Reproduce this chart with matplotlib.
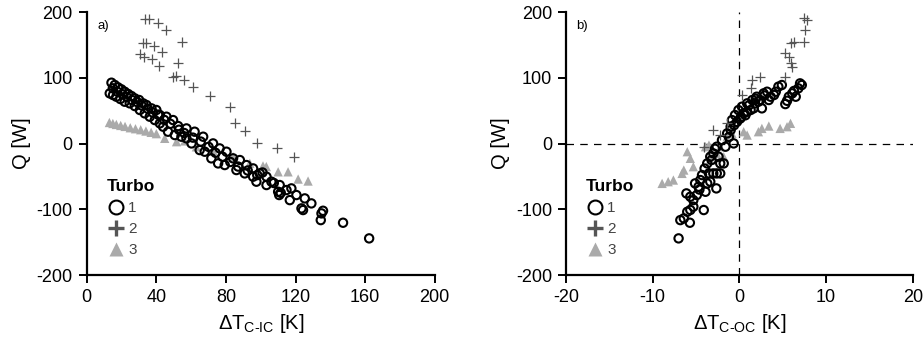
import numpy as np
import matplotlib.pyplot as plt
from matplotlib.lines import Line2D

plt.rcParams['font.family'] = ['Liberation Sans', 'DejaVu Sans']
plt.rcParams['axes.unicode_minus'] = False

# ---- panel a: dT C-IC ----
a1_x = [14.2, 16.1, 18.0, 19.9, 21.8, 23.8, 25.7, 27.6, 30.1, 32.4, 34.3, 37.2, 40.0, 42.0,
        45.8, 49.6, 52.5, 57.3, 62.0, 66.9, 72.6, 76.4, 80.3, 84.1, 88.0, 91.8, 95.6, 99.4,
        103.3, 106.1, 110.9, 114.8, 117.6, 120.5, 125.3, 129.1, 123.4, 134.9, 135.8, 134.5,
        147.3, 162.3,
        13.2, 15.1, 17.0, 19.3, 21.8, 24.7, 27.6, 30.5, 33.3, 36.2, 39.1, 42.0, 43.9, 46.7,
        50.6, 54.4, 57.3, 60.2, 64.9, 67.8, 71.6, 75.5, 79.3, 86.0, 90.8, 95.6, 97.5, 103.3,
        110.0, 110.6, 116.7, 124.3,
        15.0, 17.5, 20.5, 23.0, 26.0, 29.0, 31.5, 35.0, 38.0, 41.0, 44.5, 48.0, 53.0, 56.0,
        61.0, 65.5, 70.0, 74.0, 78.0, 82.5, 87.0, 92.5, 98.0, 101.0, 107.5, 111.5]
a1_y = [92.5, 89.0, 85.4, 82.4, 78.8, 75.3, 72.2, 68.7, 66.2, 61.1, 58.6, 53.5, 51.0, 43.3,
        40.8, 35.7, 26.6, 23.0, 18.0, 10.4, 0.2, -7.4, -12.4, -22.5, -25.1, -32.7, -37.8, -45.4,
        -50.4, -58.0, -63.1, -70.7, -68.2, -78.3, -83.4, -91.0, -98.6, -106.2, -102.2, -116.4,
        -120.4, -144.2,
        76.3, 73.8, 71.2, 67.7, 63.6, 61.1, 57.0, 51.0, 45.9, 40.8, 35.7, 30.7, 25.6, 18.0,
        12.9, 10.4, 7.9, 0.2, -9.9, -12.4, -22.5, -30.2, -32.7, -40.3, -45.4, -50.4, -58.0, -63.1,
        -73.3, -78.3, -86.0, -101.1,
        84.0, 79.0, 75.0, 71.0, 66.0, 63.0, 58.0, 53.0, 47.0, 44.0, 36.0, 30.0, 21.0, 16.0,
        9.0, 3.0, -5.0, -14.0, -20.0, -28.0, -35.0, -41.0, -48.0, -44.0, -60.0, -75.0]

a2_x = [33.7, 35.6, 41.0, 45.8, 55.0, 32.4, 33.9, 38.5, 43.3, 30.5, 32.8, 37.7, 41.6, 52.3,
        49.6, 51.5, 55.9, 61.1, 70.7, 82.2, 85.4, 91.2, 97.9, 109.6, 119.0]
a2_y = [189, 189, 183.8, 172.6, 155, 153, 153, 148.8, 138.7, 135.6, 132, 128, 118, 123,
        101.6, 102, 96.6, 85.5, 72.7, 56, 31.6, 19, 0.3, -7.3, -20]

a3_x = [13.0, 15.0, 17.0, 19.5, 22.0, 25.0, 28.0, 31.0, 34.0, 37.0, 40.0, 44.8, 51.6, 56.3,
        63.0, 72.6, 84.1, 93.7, 101.3, 103.2, 110.0, 115.7, 121.5, 127.2]
a3_y = [32.0, 30.5, 29.0, 27.5, 26.0, 24.0, 22.5, 21.0, 19.0, 17.0, 15.0, 7.9, 2.8, 4.0,
        -5.0, -11.0, -20.0, -30.0, -34.0, -35.0, -43.0, -43.0, -54.0, -57.0]

# ---- panel b: dT C-OC ----
b1_x = [-7.0, -6.8, -6.4, -5.7, -6.0, -5.65, -5.3, -4.1, -6.1, -5.65, -5.3, -4.9, -5.1, -4.7,
        -4.5, -3.9, -3.7, -3.35, -3.0, -2.6, -2.65, -2.2, -3.5, -4.3, -3.7, -3.35, -3.0, -2.4,
        -1.8, -2.2, -1.6, -0.65, -2.6, -2.0, -1.4, -1.0, -0.85, -0.5, -0.1, 0.3, 0.5, 0.9,
        0.9, 1.5, 1.8, 2.0, 2.6, 2.4, 2.8, 3.2, 3.4, 4.0, 4.5, 4.9, 5.3, 5.7, 6.1, 6.5,
        6.8, 7.2, 7.0, -1.0, -0.27, 0.1, 0.7, 1.3, 1.65, 2.2, 3.6, 4.2,
        -4.6, -4.0, -3.2, -2.8, -1.2, -0.6, 0.2, 1.1, 1.9, 2.9, 5.5, 6.3]
b1_y = [-144.2, -116.4, -113.8, -120.4, -103.7, -101.0, -96.0, -101.1, -75.8, -80.9, -86.0,
        -78.3, -60.6, -65.6, -55.5, -73.3, -60.6, -58.0, -45.4, -45.4, -68.2, -45.4, -45.4,
        -47.9, -30.2, -20.0, -15.0, -20.0, -30.2, -30.2, -4.8, 0.2, -4.8, 5.3, 15.5, 25.6,
        35.7, 43.3, 50.9, 56.0, 45.9, 48.4, 61.1, 66.2, 61.1, 71.2, 53.5, 66.2, 76.3, 78.8,
        66.2, 73.8, 86.5, 89.0, 60.0, 71.2, 76.3, 71.2, 83.9, 89.0, 91.5, 20.5, 33.0, 38.0,
        43.0, 51.0, 53.5, 63.6, 71.2, 78.8,
        -70.0, -38.0, -25.0, -8.0, 10.0, 28.0, 40.0, 58.0, 68.0, 73.0, 65.0, 80.0]

b2_x = [7.4, 7.8, 7.6, 7.4, 5.9, 6.3, 5.3, 5.7, 5.9, 6.1, 5.3, 2.4, 1.5, 1.3, 0.3, -3.0,
        -4.1, -2.2, -1.4]
b2_y = [190.4, 187.8, 172.6, 154.9, 152.3, 155.0, 137.1, 132.0, 122.0, 117.0, 101.6, 101.6,
        96.6, 83.9, 73.8, 20.5, -4.8, 13.0, 30.7]

b3_x = [-8.9, -8.2, -7.6, -6.4, -6.6, -6.0, -5.65, -5.3, -3.9, -3.5, -3.35, -2.6, -1.8, -1.4,
        -0.85, 0.9, 0.5, 2.2, 2.6, 3.4, 4.7, 5.9, 5.5, -2.2]
b3_y = [-60.6, -58.0, -55.5, -40.3, -45.4, -12.4, -22.5, -35.2, -4.8, -2.3, -25.1, -15.0,
        -20.0, 10.4, 15.5, 12.9, 18.0, 18.0, 23.0, 26.6, 23.0, 30.7, 25.6, -4.8]

c_plus = '#555555'
c_tri = '#aaaaaa'


def style_axes(ax):
    for s in ['top', 'right']:
        ax.spines[s].set_visible(False)
    for s in ['left', 'bottom']:
        ax.spines[s].set_linewidth(1.6)
    ax.tick_params(direction='out', length=6, width=1.4, labelsize=13, pad=4)
    ax.set_ylim(-200, 200)
    ax.set_yticks([-200, -100, 0, 100, 200])
    ax.set_ylabel('Q [W]', fontsize=14.5, labelpad=4)


def draw(ax, x1, y1, x2, y2, x3, y3):
    ax.scatter(x3, y3, marker='^', s=45, color=c_tri, edgecolors='none', zorder=2)
    ax.scatter(x1, y1, marker='o', s=36, facecolors='none', edgecolors='black',
               linewidths=1.5, zorder=3)
    ax.scatter(x2, y2, marker='+', s=60, color=c_plus, linewidths=0.9, zorder=4)
    handles = [
        Line2D([], [], marker='o', ls='none', ms=10, mfc='none', mec='black', mew=1.5),
        Line2D([], [], marker='+', ls='none', ms=12, mec=c_plus, mew=2.4),
        Line2D([], [], marker='^', ls='none', ms=10, mfc=c_tri, mec='none'),
    ]
    leg = ax.legend(handles, ['1', '2', '3'], title='Turbo', loc='lower left',
                    bbox_to_anchor=(0.035, 0.04), frameon=False, fontsize=11,
                    handletextpad=0.2, labelspacing=0.45, borderpad=0,
                    handlelength=1.2, alignment='left')
    leg.get_title().set_fontweight('bold')
    leg.get_title().set_fontsize(12.5)
    for t in leg.get_texts():
        t.set_color('#444444')


fig = plt.figure(figsize=(9.23, 3.43), dpi=100)
ax1 = fig.add_axes([0.094, 0.198, 0.377, 0.767])
ax2 = fig.add_axes([0.613, 0.198, 0.376, 0.767])

draw(ax1, a1_x, a1_y, a2_x, a2_y, a3_x, a3_y)
style_axes(ax1)
ax1.set_xlim(0, 200)
ax1.set_xticks([0, 40, 80, 120, 160, 200])
ax1.set_xlabel('\u0394T$_{\\mathregular{C\u2010IC}}$ [K]', fontsize=14.5, labelpad=4)
ax1.text(0.03, 0.97, 'a)', transform=ax1.transAxes, fontsize=9.5, va='top')

draw(ax2, b1_x, b1_y, b2_x, b2_y, b3_x, b3_y)
style_axes(ax2)
ax2.set_xlim(-20, 20)
ax2.set_xticks([-20, -10, 0, 10, 20])
ax2.axhline(0, color='black', ls=(0, (6, 5)), lw=0.9, zorder=1)
ax2.axvline(0, color='black', ls=(0, (6, 5)), lw=0.9, zorder=1)
ax2.set_xlabel('\u0394T$_{\\mathregular{C\u2010OC}}$ [K]', fontsize=14.5, labelpad=4)
ax2.text(0.03, 0.97, 'b)', transform=ax2.transAxes, fontsize=9.5, va='top')

fig.savefig('out.png', dpi=100)
